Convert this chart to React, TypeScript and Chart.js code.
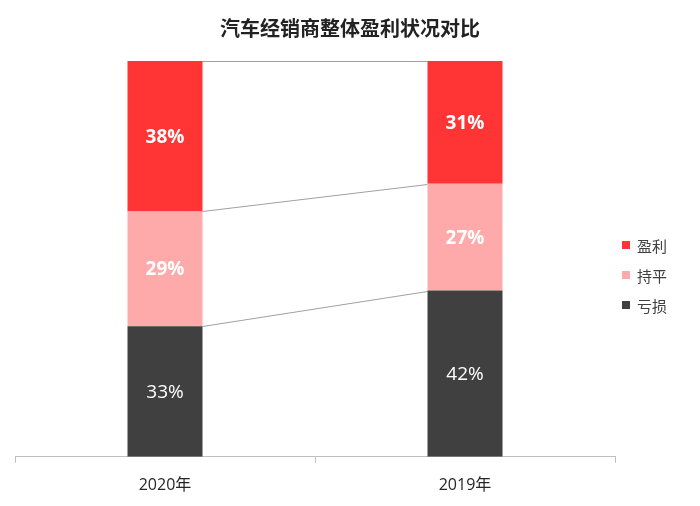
import React, { useEffect, useRef } from "react";
import { Chart, registerables } from "chart.js";

Chart.register(...registerables);

const categories = ["2020年", "2019年"];
const seriesNames = ["亏损", "持平", "盈利"];
const lossValues = [33, 42];
const flatValues = [29, 27];
const profitValues = [38, 31];
const seriesColors = ["#404040", "#FFAAAA", "#FF3535"];
const labelBold = [false, true, true];
const titleText = "汽车经销商整体盈利状况对比";

const FONT = "'Open Sans', 'Noto Sans CJK SC', sans-serif";
const CJK = "'Noto Sans CJK SC', 'Open Sans', sans-serif";

const connectorPlugin = {
  id: "connectors",
  beforeDatasetsDraw(chart: any) {
    const ctx = chart.ctx;
    ctx.save();
    ctx.strokeStyle = "#A0A0A0";
    ctx.lineWidth = 1;
    chart.data.datasets.forEach((_: any, i: number) => {
      const meta = chart.getDatasetMeta(i);
      for (let j = 0; j < meta.data.length - 1; j++) {
        const a = meta.data[j];
        const b = meta.data[j + 1];
        ctx.beginPath();
        ctx.moveTo(a.x + a.width / 2, Math.round(a.y) + 0.5);
        ctx.lineTo(b.x - b.width / 2, Math.round(b.y) + 0.5);
        ctx.stroke();
      }
    });
    ctx.restore();
  },
};

const valueLabelPlugin = {
  id: "valueLabels",
  afterDatasetsDraw(chart: any) {
    const ctx = chart.ctx;
    ctx.save();
    ctx.textAlign = "center";
    ctx.textBaseline = "middle";
    ctx.fillStyle = "#FFFFFF";
    chart.data.datasets.forEach((ds: any, i: number) => {
      const meta = chart.getDatasetMeta(i);
      ctx.font = `${labelBold[i] ? "bold " : ""}19px ${FONT}`;
      meta.data.forEach((el: any, j: number) => {
        const y = (el.y + el.base) / 2 + 1;
        ctx.fillText(`${ds.data[j]}%`, el.x, y);
      });
    });
    ctx.restore();
  },
};

const decorPlugin = {
  id: "decor",
  afterDraw(chart: any) {
    const ctx = chart.ctx;
    ctx.save();
    // title
    ctx.font = `bold 20px ${CJK}`;
    ctx.fillStyle = "#222222";
    ctx.textAlign = "center";
    ctx.textBaseline = "middle";
    ctx.fillText(titleText, chart.width / 2, 28);
    // legend
    ctx.font = `15px ${CJK}`;
    ctx.textAlign = "left";
    const n = chart.data.datasets.length;
    const startY = 245;
    const gap = 30;
    for (let k = 0; k < n; k++) {
      const i = n - 1 - k;
      const ds = chart.data.datasets[i];
      const y = startY + k * gap;
      ctx.fillStyle = ds.backgroundColor;
      ctx.fillRect(622, y - 4, 8, 8);
      ctx.fillStyle = "#404040";
      ctx.fillText(ds.label, 637, y + 1);
    }
    ctx.restore();
  },
};

export default function App() {
  const ref = useRef<HTMLCanvasElement | null>(null);
  useEffect(() => {
    if (!ref.current) return;
    const values = [lossValues, flatValues, profitValues];
    const chart = new Chart(ref.current, {
      type: "bar",
      data: {
        labels: categories,
        datasets: seriesNames.map((name, i) => ({
          label: name,
          data: values[i],
          backgroundColor: seriesColors[i],
          borderWidth: 0,
          barPercentage: 0.25,
          categoryPercentage: 1,
        })),
      },
      options: {
        responsive: false,
        animation: false,
        layout: { padding: { left: 15, right: 85, top: 61, bottom: -2 } },
        plugins: {
          legend: { display: false },
          tooltip: { enabled: false },
          title: { display: false },
        },
        scales: {
          x: {
            stacked: true,
            offset: true,
            grid: {
              display: true,
              offset: true,
              drawOnChartArea: false,
              drawTicks: true,
              tickLength: 6,
              color: "#BFBFBF",
            },
            border: { display: true, color: "#BFBFBF", width: 1 },
            ticks: {
              color: "#262626",
              padding: 13,
              font: { family: FONT, size: 16 },
            },
          },
          y: {
            stacked: true,
            display: false,
            min: 0,
            max: 100,
          },
        },
      },
      plugins: [connectorPlugin, valueLabelPlugin, decorPlugin],
    });
    return () => chart.destroy();
  }, []);
  return (
    <div style={{ position: "absolute", left: 0, top: 0, width: 700, height: 506, background: "#fff" }}>
      <canvas ref={ref} width={700} height={506} />
    </div>
  );
}
